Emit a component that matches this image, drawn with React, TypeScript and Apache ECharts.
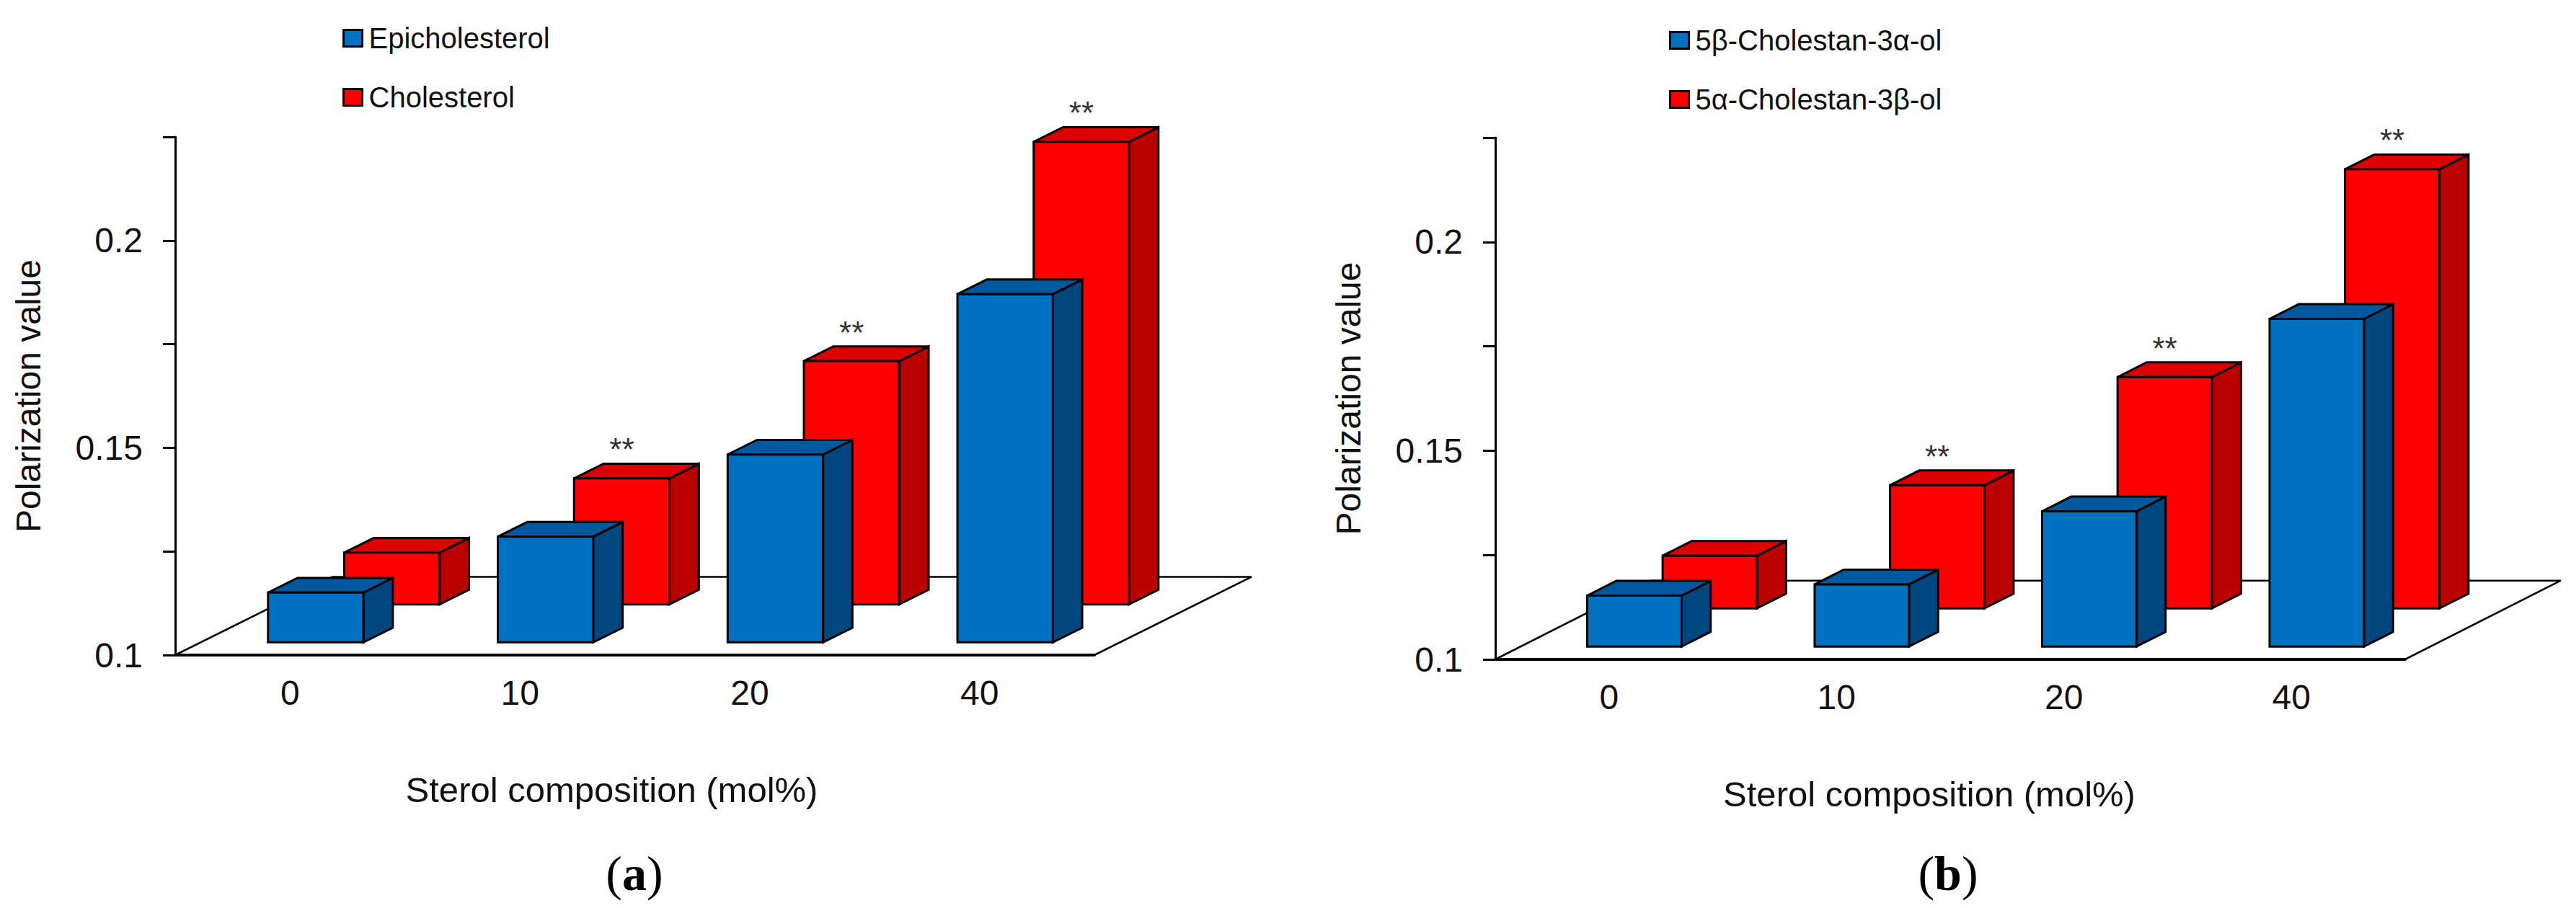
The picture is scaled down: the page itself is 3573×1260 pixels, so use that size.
import React, { useEffect, useRef } from 'react';
import * as echarts from 'echarts';

// ---------- data ----------
const categories = ['0', '10', '20', '40'];
const namesA = ['Epicholesterol', 'Cholesterol'];
const epicholesterol = [0.112, 0.1255, 0.1453, 0.184];
const cholesterol = [0.1125, 0.1304, 0.1587, 0.2116];
const namesB = ['5β-Cholestan-3α-ol', '5α-Cholestan-3β-ol'];
const cholestan5b3a = [0.1122, 0.1149, 0.1324, 0.1785];
const cholestan5a3b = [0.1126, 0.1295, 0.1554, 0.2052];
const significance = ['', '**', '**', '**'];
const yMin = 0.1;
const yMax = 0.225;
const yStep = 0.025;
const yLabelValues = ['0.1', '0.15', '0.2'];
const panelLabels = ['a', 'b'];

// ---------- style ----------
const FONT = "'Liberation Sans', Arial, sans-serif";
const SERIF = "'Liberation Serif', 'Times New Roman', serif";
const TXT = '#111';
const DEPTH_X = 0.171; // floor depth as fraction of grid width
const DEPTH_Y = 0.151; // floor depth as fraction of grid height
const BAR_FRAC = 0.415; // bar width as fraction of category band
const BLUE = { front: '#0070C0', top: '#00589E', side: '#00467F' };
const RED = { front: '#FF0000', top: '#DD0000', side: '#BB0000' };

function barRenderer(front: number, back: number, col: any, labels: string[] | null) {
  return (params: any, api: any) => {
    const cs = params.coordSys;
    const DX = cs.width * DEPTH_X;
    const DY = -cs.height * DEPTH_Y;
    const i = api.value(0);
    const v = api.value(1);
    const top = api.coord([i, v]);
    const base = api.coord([i, yMin]);
    const bw = api.size([1, 0])[0];
    const hw = (bw * BAR_FRAC) / 2;
    const ox = front * DX;
    const oy = front * DY;
    const dx = (back - front) * DX;
    const dy = (back - front) * DY;
    const xl = top[0] - hw + ox;
    const xr = top[0] + hw + ox;
    const yt = top[1] + oy;
    const yb = base[1] + oy;
    const stroke = { stroke: '#000', lineWidth: 3, lineJoin: 'miter' };
    const children: any[] = [
      {
        type: 'polygon',
        shape: { points: [[xr, yt], [xr + dx, yt + dy], [xr + dx, yb + dy], [xr, yb]] },
        style: { fill: col.side, ...stroke },
      },
      {
        type: 'polygon',
        shape: { points: [[xl, yt], [xr, yt], [xr + dx, yt + dy], [xl + dx, yt + dy]] },
        style: { fill: col.top, ...stroke },
      },
      {
        type: 'rect',
        shape: { x: xl, y: yt, width: xr - xl, height: yb - yt },
        style: { fill: col.front, ...stroke },
      },
    ];
    if (labels && labels[i]) {
      children.push({
        type: 'text',
        x: (xl + xr) / 2,
        y: yt - 40,
        style: {
          text: labels[i],
          textAlign: 'center',
          textVerticalAlign: 'middle',
          fontSize: 44,
          fontFamily: FONT,
          fill: '#333',
        },
      });
    }
    return { type: 'group', children };
  };
}

function floorRenderer(params: any) {
  const cs = params.coordSys;
  const DX = cs.width * DEPTH_X;
  const DY = -cs.height * DEPTH_Y;
  const x0 = cs.x;
  const x1 = cs.x + cs.width;
  const y0 = cs.y + cs.height;
  return {
    type: 'polygon',
    shape: { points: [[x0, y0], [x1, y0], [x1 + DX, y0 + DY], [x0 + DX, y0 + DY]] },
    style: { fill: 'none', stroke: '#000', lineWidth: 2.6 },
  };
}

function yLabelFormatter(v: number) {
  const s = String(Math.round(v * 1000) / 1000);
  return yLabelValues.indexOf(s) >= 0 ? s : '';
}

const grids = [
  { left: 243, top: 190, width: 1275, height: 719 },
  { left: 2074, top: 191, width: 1262, height: 724 },
];
const xNamePad = [64, 58];
const legendPos = [
  { left: 470, top: 28 },
  { left: 2310, top: 31 },
];
const panelCenters = [880, 2702];

function buildOption() {
  const xAxis = grids.map((_, gi) => ({
    type: 'category',
    gridIndex: gi,
    data: categories,
    boundaryGap: true,
    axisLine: { lineStyle: { color: '#000', width: 4 } },
    axisTick: { inside: true, length: 19, lineStyle: { color: '#000', width: 3 } },
    axisLabel: { fontSize: 48, fontFamily: FONT, color: TXT, margin: 28 },
    name: 'Sterol composition (mol%)',
    nameLocation: 'middle',
    nameGap: 162,
    nameTextStyle: { fontSize: 49, fontFamily: FONT, color: TXT, padding: [0, xNamePad[gi], 0, 0] },
  }));
  const yAxis = grids.map((_, gi) => ({
    type: 'value',
    gridIndex: gi,
    min: yMin,
    max: yMax,
    interval: yStep,
    axisLine: { show: true, lineStyle: { color: '#000', width: 3 } },
    axisTick: { show: true, inside: false, length: 17, lineStyle: { color: '#000', width: 3 } },
    axisLabel: { fontSize: 48, fontFamily: FONT, color: TXT, margin: 45, formatter: yLabelFormatter },
    splitLine: { show: false },
    name: 'Polarization value',
    nameLocation: 'middle',
    nameGap: 180,
    nameTextStyle: { fontSize: 48, fontFamily: FONT, color: TXT },
  }));

  const mk = (vals: number[]) => vals.map((v, i) => [i, v]);
  const series: any[] = [];
  const panels = [
    { names: namesA, blue: epicholesterol, red: cholesterol },
    { names: namesB, blue: cholestan5b3a, red: cholestan5a3b },
  ];
  panels.forEach((p, gi) => {
    series.push({
      type: 'custom',
      name: 'floor' + gi,
      xAxisIndex: gi,
      yAxisIndex: gi,
      silent: true,
      z: 1,
      data: [[0, yMin]],
      renderItem: floorRenderer,
    });
    series.push({
      type: 'custom',
      name: p.names[1],
      xAxisIndex: gi,
      yAxisIndex: gi,
      z: 2,
      itemStyle: { color: RED.front },
      encode: { x: 0, y: 1 },
      data: mk(p.red),
      renderItem: barRenderer(0.648, 0.835, RED, significance),
    });
    series.push({
      type: 'custom',
      name: p.names[0],
      xAxisIndex: gi,
      yAxisIndex: gi,
      z: 3,
      itemStyle: { color: BLUE.front },
      encode: { x: 0, y: 1 },
      data: mk(p.blue),
      renderItem: barRenderer(0.163, 0.35, BLUE, null),
    });
  });

  const legend = panels.map((p, gi) => ({
    data: p.names,
    orient: 'vertical',
    left: legendPos[gi].left,
    top: legendPos[gi].top,
    itemWidth: 26,
    itemHeight: 23,
    itemGap: 42,
    icon: 'rect',
    selectedMode: false,
    itemStyle: { borderColor: '#000', borderWidth: 3 },
    textStyle: { fontSize: 40, fontFamily: FONT, color: TXT, padding: [0, 0, 0, 4] },
  }));

  const graphic = panelLabels.map((lab, gi) => ({
    type: 'text',
    x: panelCenters[gi],
    y: 1212,
    style: {
      text: '{p|(}{b|' + lab + '}{p|)}',
      textAlign: 'center',
      textVerticalAlign: 'middle',
      rich: {
        p: { fontSize: 68, fontFamily: SERIF, fill: '#000' },
        b: { fontSize: 68, fontFamily: SERIF, fontWeight: 'bold', fill: '#000' },
      },
    },
  }));

  return {
    animation: false,
    backgroundColor: '#fff',
    grid: grids.map((g) => ({ ...g, containLabel: false })),
    xAxis,
    yAxis,
    legend,
    series,
    graphic,
  };
}

export default function App() {
  const ref = useRef<HTMLDivElement>(null);
  useEffect(() => {
    if (!ref.current) return;
    const chart = echarts.init(ref.current, undefined, { renderer: 'svg' });
    chart.setOption(buildOption() as any);
    return () => chart.dispose();
  }, []);
  return (
    <div
      ref={ref}
      style={{ position: 'fixed', left: 0, top: 0, width: 3573, height: 1260, background: '#fff' }}
    />
  );
}
